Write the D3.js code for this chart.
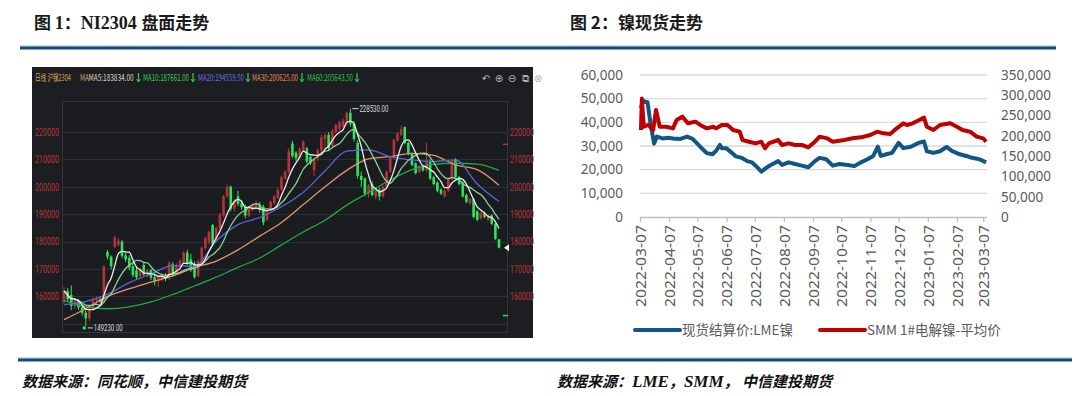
<!DOCTYPE html>
<html>
<head>
<meta charset="utf-8">
<script src="https://cdn.jsdelivr.net/npm/d3@7"></script>
<style>
body{margin:0;background:#fff}
svg{display:block}
</style>
</head>
<body>
<svg id="chart"></svg>
<script>
// ---- left chart: NI2304 daily candles
var kOpen = [158000,162000,160500,156500,158500,156000,154000,152000,155500,158500,159000,158500,176200,174500,178000,178800,180000,175000,174000,171000,
  169500,167500,171500,168000,169500,167000,165500,166500,168000,166500,171700,168500,171000,172500,176000,173500,172000,167500,172500,177700,
  180000,186000,180500,185000,189500,196500,200000,192000,196500,194000,192700,189500,191500,192000,193500,192700,188000,191500,194000,196000,
  199000,203000,205500,215800,212500,210800,213500,214000,211000,206100,210400,213400,217500,219000,215000,220000,221000,222000,223500,227000,
  223000,216000,204000,203000,197500,201000,196500,199000,196500,200000,205500,210500,217000,219000,221800,216000,212000,208500,205500,207500,
  206000,209500,203500,201500,199000,196500,198500,203000,210000,203500,201500,197000,194000,195500,191000,188500,190500,188000,189500,186500,180800];
var kHigh = [163500,163000,164000,159500,159000,157000,155000,156500,159500,160000,159500,171500,177000,175000,182200,181200,180500,176000,175000,172500,
  170500,170500,172500,170000,170000,168500,167500,168500,168500,172800,172500,172000,173500,176500,177000,175500,172800,173500,178200,181800,
  184000,186500,185500,190500,197000,200800,200500,195500,198500,195000,193500,192500,194000,195000,194500,193500,191500,195000,197000,199500,
  204000,206000,214000,216800,213000,214500,217000,214500,211500,210500,214000,219000,219500,220000,221000,223000,224000,225000,227500,228530,
  224000,217000,205500,203500,201000,202000,199500,199500,200500,206000,211000,217500,220000,222300,222000,216500,212500,209000,208000,208000,
  216000,210000,204000,202000,199500,199000,203500,210000,210500,204000,202000,197500,196000,196000,191500,191000,191000,190000,190000,187000,181000];
var kLow = [157000,158000,155000,155500,155000,153000,149230,151000,155000,157000,157500,157500,173500,170000,177500,178200,174000,172500,169500,167000,
  166000,166500,167500,167000,166000,164000,163500,165500,165500,166000,167000,168000,170500,172000,171500,169000,166500,167000,172000,177000,
  179000,178500,180000,184500,189000,196000,191000,191000,193000,191500,188500,189000,191000,191500,190500,186000,187500,191000,193500,195500,
  198500,202500,205000,210500,209500,210000,213000,208500,208000,204000,209500,212500,214000,213000,214500,219500,220500,221500,222500,222000,
  216500,203000,200000,196500,196000,196500,195500,195000,196000,199500,205000,210000,216500,218500,215500,211500,207500,204500,205000,205500,
  205500,202500,200500,198000,197000,196000,198000,202500,203000,200500,196000,194000,193500,188500,187500,188000,188500,187500,186000,180500,177500];
var kClose = [162000,159000,156500,158500,156000,154000,152000,155500,158500,159000,158000,170800,174500,171000,181500,180300,174800,173500,170500,167800,
  167000,169800,168000,169500,166800,165500,167000,168000,166500,172300,168000,171200,173000,176000,172000,169500,167000,172800,177700,181200,
  183500,179200,185000,189800,196500,200000,192000,194800,193800,192500,189500,192000,193000,194000,191500,187000,191000,194500,196500,199000,
  203500,205500,213000,211200,210500,213800,216500,209200,208600,209800,213400,218000,218800,214000,220500,222500,223500,224000,227000,223000,
  217500,204000,202500,197500,200500,197000,199000,196500,200000,205500,210500,217000,219500,221000,216000,212000,208000,205000,207500,206000,
  209500,203000,201000,198500,197500,198500,203000,209500,203500,201000,196500,194500,195500,189000,188000,190500,189000,189500,186500,181000,177800];

// longer moving averages, read at every 6th candle
var maIdx = [0,6,12,18,24,30,36,42,48,54,60,66,72,78,84,90,96,102,108,114,120];
var ma20Vals = [157000,158100,160800,165000,168200,171200,171000,180200,186200,188800,192700,198000,205800,213000,213500,211000,209800,209200,209800,201000,194600];
var ma30Vals = [151500,155500,160000,162800,165200,167500,170500,172900,177000,182000,187000,193500,200000,206000,210200,211000,212200,211500,208000,206300,200600];
var ma60Vals = [158500,156300,155500,156200,158000,160700,163800,167000,170600,174000,178800,183500,187800,193300,197900,202500,206300,208200,208600,208300,206000];

var kTicks = [160000,170000,180000,190000,200000,210000,220000];
var maLabels = ["MA5:183834.00","MA10:187661.00","MA20:194559.50","MA30:200625.00","MA60:205643.50"];

// ---- right chart: nickel spot prices
var lmeDates = ["2022-03-08","2022-03-10","2022-03-15","2022-03-18","2022-03-22","2022-03-25","2022-03-31","2022-04-06","2022-04-11","2022-04-19",
  "2022-04-26","2022-05-02","2022-05-10","2022-05-17","2022-05-23","2022-05-27","2022-05-31","2022-06-02","2022-06-07","2022-06-13",
  "2022-06-17","2022-06-23","2022-06-29","2022-07-04","2022-07-08","2022-07-14","2022-07-20","2022-07-26","2022-08-01","2022-08-05",
  "2022-08-12","2022-08-19","2022-08-26","2022-09-02","2022-09-09","2022-09-14","2022-09-21","2022-09-28","2022-10-05","2022-10-14",
  "2022-10-21","2022-10-28","2022-11-04","2022-11-10","2022-11-15","2022-11-18","2022-11-24","2022-11-30","2022-12-07","2022-12-12",
  "2022-12-20","2022-12-28","2023-01-03","2023-01-06","2023-01-13","2023-01-20","2023-01-27","2023-02-02","2023-02-10","2023-02-17",
  "2023-02-23","2023-03-03","2023-03-10"];
var lmeVals = [46000,49000,48500,40000,31000,34000,33200,33500,33200,33000,
  34000,33000,29700,27000,26500,28000,30500,29000,29000,27000,
  25600,25000,23600,23100,21700,19200,21000,22400,23600,22000,
  23100,22400,21700,21000,23600,25000,24400,21700,22400,22000,
  21500,23100,24400,25800,29700,25800,26500,27100,31300,29100,
  29700,31300,31900,27800,27100,27800,29600,27800,26500,25800,
  25000,24400,23100];

var smmDates = ["2022-03-08","2022-03-09","2022-03-11","2022-03-16","2022-03-21","2022-03-24","2022-03-28","2022-04-04","2022-04-11","2022-04-15",
  "2022-04-21","2022-04-27","2022-05-05","2022-05-10","2022-05-17","2022-05-24","2022-05-27","2022-06-02","2022-06-08","2022-06-14",
  "2022-06-21","2022-06-24","2022-07-01","2022-07-08","2022-07-14","2022-07-18","2022-07-22","2022-08-01","2022-08-05","2022-08-12",
  "2022-08-19","2022-08-26","2022-09-02","2022-09-09","2022-09-14","2022-09-22","2022-09-28","2022-10-10","2022-10-19","2022-10-28",
  "2022-11-07","2022-11-14","2022-11-21","2022-11-28","2022-12-05","2022-12-12","2022-12-16","2022-12-22","2022-12-29","2023-01-03",
  "2023-01-06","2023-01-13","2023-01-20","2023-01-31","2023-02-07","2023-02-13","2023-02-21","2023-02-28","2023-03-07","2023-03-10"];
var smmVals = [214400,292000,222600,226800,214400,263700,222600,222600,218500,239100,
  247300,230900,235000,226800,218500,222600,218500,226800,226800,214400,
  210300,189800,185600,181500,185600,169300,181500,189800,177500,181500,
  177500,177500,171700,185600,198000,193900,185600,189800,193900,196300,
  202100,210300,206200,204500,218500,230900,226800,230900,239100,245000,
  222600,214400,226800,230900,222600,214400,210300,198000,193900,185600];

var leftTicks = [0,10000,20000,30000,40000,50000,60000];
var rightTicks = [0,50000,100000,150000,200000,250000,300000,350000];
var dateTicks = ["2022-03-07","2022-04-07","2022-05-07","2022-06-07","2022-07-07","2022-08-07","2022-09-07",
  "2022-10-07","2022-11-07","2022-12-07","2023-01-07","2023-02-07","2023-03-07"];

var width = 1080, height = 396;
var svg = d3.select("#chart").attr("width", width).attr("height", height);
var cjk = "'Noto Sans CJK SC', 'Noto Sans', sans-serif";

// ---------- titles, rules, sources
var title1 = svg.append("text").attr("x", 34).attr("y", 29)
  .attr("font-family", cjk).attr("font-weight", "bold").attr("font-size", 17).attr("fill", "#1a1a1a");
title1.append("tspan").text("图 ");
title1.append("tspan").attr("font-family", "'Liberation Serif', serif").attr("font-size", 18).text("1");
title1.append("tspan").text("：");
title1.append("tspan").attr("font-family", "'Liberation Serif', serif").attr("font-size", 18).text("NI2304 ");
title1.append("tspan").text("盘面走势");

svg.append("text").attr("x", 570).attr("y", 29)
  .attr("font-family", cjk).attr("font-weight", "bold").attr("font-size", 17).attr("fill", "#1a1a1a")
  .text("图 2：镍现货走势");

function rule(x1, x2, y) {
  svg.append("line").attr("x1", x1).attr("x2", x2).attr("y1", y - 2).attr("y2", y - 2)
    .attr("stroke", "#9db8d0").attr("stroke-width", 1);
  svg.append("line").attr("x1", x1).attr("x2", x2).attr("y1", y).attr("y2", y)
    .attr("stroke", "#114d7c").attr("stroke-width", 3);
}
rule(20, 1056, 48);
rule(18, 1072, 360);

svg.append("text").attr("x", 22).attr("y", 387)
  .attr("font-family", cjk).attr("font-weight", "bold").attr("font-style", "italic")
  .attr("font-size", 15).attr("fill", "#111").text("数据来源：同花顺，中信建投期货");
var src2 = svg.append("text").attr("x", 557).attr("y", 387)
  .attr("font-family", cjk).attr("font-weight", "bold").attr("font-style", "italic")
  .attr("font-size", 15).attr("fill", "#111");
src2.append("tspan").text("数据来源：");
src2.append("tspan").attr("font-family", "'Liberation Serif', serif").attr("font-size", 17).text("LME");
src2.append("tspan").text("，");
src2.append("tspan").attr("font-family", "'Liberation Serif', serif").attr("font-size", 17).text("SMM");
src2.append("tspan").text("， 中信建投期货");

// ---------- left chart (dark screenshot style)
var k = svg.append("g");
k.append("rect").attr("x", 32).attr("y", 67).attr("width", 501).attr("height", 271).attr("fill", "#1d1e22");
k.append("rect").attr("x", 62.5).attr("y", 101.5).attr("width", 445).attr("height", 231)
  .attr("fill", "#1b1c20").attr("stroke", "#33353b").attr("stroke-width", 1);

var kx = d3.scaleLinear().domain([0, 120]).range([64, 499]);
var ky = d3.scaleLinear().domain([150000, 220000]).range([323.8, 132]);

k.selectAll(".kgrid").data(kTicks.concat([150000])).enter().append("line")
  .attr("x1", 63).attr("x2", 507).attr("y1", function(d){ return Math.round(ky(d)) + 0.5; })
  .attr("y2", function(d){ return Math.round(ky(d)) + 0.5; })
  .attr("stroke", "#2d2f35").attr("stroke-width", 1);

var yLabL = d3.axisLeft(ky).tickValues(kTicks).tickSize(0).tickPadding(0).tickFormat(d3.format("d"));
var gl = k.append("g").attr("transform", "translate(59,0)").call(yLabL);
var yLabR = d3.axisRight(ky).tickValues(kTicks).tickSize(0).tickPadding(0).tickFormat(d3.format("d"));
var gr = k.append("g").attr("transform", "translate(510,0)").call(yLabR);
[gl, gr].forEach(function(g){
  g.select(".domain").remove();
  g.selectAll("text").attr("fill", "#b8343c").attr("font-family", "'Roboto', sans-serif")
    .attr("font-size", 10).attr("textLength", 24).attr("lengthAdjust", "spacingAndGlyphs");
});

// header strip: narrow text drawn with a horizontal squeeze
function hText(x, sx, col, t) {
  k.append("text").attr("transform", "translate(" + x + ",81) scale(" + sx + ",1)")
    .attr("font-family", cjk).attr("font-size", 9).attr("fill", col).text(t);
}
hText(35, 0.62, "#d2a35c", "日线 沪镍2304");
hText(80, 0.7, "#c9a15a", "MA");
var maColors = ["#d8d2c4", "#3dc85c", "#6a6ee0", "#e0845c", "#2cc04e"];
var maX = [88.5, 143, 198, 252, 307];
maLabels.forEach(function(t, i){
  hText(maX[i], i === 0 ? 0.72 : 0.68, maColors[i], t);
  k.append("line").attr("x1", maX[i] + 50).attr("x2", maX[i] + 50).attr("y1", 73).attr("y2", 81)
    .attr("stroke", "#2fd252").attr("stroke-width", 1.2);
  k.append("path").attr("d", "M" + (maX[i] + 48) + ",79L" + (maX[i] + 50) + ",82L" + (maX[i] + 52) + ",79")
    .attr("fill", "none").attr("stroke", "#2fd252").attr("stroke-width", 1);
});
var icons = ["↶", "⊕", "⊖", "⧉", "⊗"];
icons.forEach(function(t, i){
  k.append("text").attr("x", 486 + i * 13).attr("y", 82).attr("font-family", "'DejaVu Sans', sans-serif")
    .attr("font-size", 10).attr("fill", "#b5b5b5").attr("text-anchor", "middle").text(t);
});

// candles
var candles = kClose.map(function(c, i){ return {i: i, o: kOpen[i], h: kHigh[i], l: kLow[i], c: c}; });
var cg = k.append("g");
cg.selectAll(".wick").data(candles).enter().append("line")
  .attr("x1", function(d){ return kx(d.i); }).attr("x2", function(d){ return kx(d.i); })
  .attr("y1", function(d){ return ky(d.h); }).attr("y2", function(d){ return ky(d.l); })
  .attr("stroke", function(d){ return d.c >= d.o ? "#c0343e" : "#2ee35c"; }).attr("stroke-width", 1);
cg.selectAll(".body").data(candles).enter().append("rect")
  .attr("x", function(d){ return kx(d.i) - 1.3; }).attr("width", 2.6)
  .attr("y", function(d){ return ky(Math.max(d.o, d.c)); })
  .attr("height", function(d){ return Math.max(1, Math.abs(ky(d.o) - ky(d.c))); })
  .attr("fill", function(d){ return d.c >= d.o ? "#b8323b" : "#2ee35c"; });

// moving averages
function movingAvg(arr, n) {
  return arr.map(function(v, i){ return d3.mean(arr.slice(Math.max(0, i - n + 1), i + 1)); });
}
var ma5 = movingAvg(kClose, 5), ma10 = movingAvg(kClose, 10);
var lineK = d3.line().x(function(d){ return kx(d[0]); }).y(function(d){ return ky(d[1]); }).curve(d3.curveMonotoneX);
var maSets = [
  [ma60Vals.map(function(v, j){ return [maIdx[j], v]; }), "#1fa846"],
  [ma30Vals.map(function(v, j){ return [maIdx[j], v]; }), "#e39272"],
  [ma20Vals.map(function(v, j){ return [maIdx[j], v]; }), "#5c63d2"],
  [ma10.map(function(v, i){ return [i, v]; }), "#86cf95"],
  [ma5.map(function(v, i){ return [i, v]; }), "#ececec"]
];
maSets.forEach(function(s){
  k.append("path").attr("d", lineK(s[0])).attr("fill", "none").attr("stroke", s[1]).attr("stroke-width", 1.3);
});

// high / low notes and right-edge markers
var hiI = d3.maxIndex(kHigh), loI = d3.minIndex(kLow);
k.append("line").attr("x1", kx(hiI) + 2).attr("x2", kx(hiI) + 8).attr("y1", ky(kHigh[hiI])).attr("y2", ky(kHigh[hiI]))
  .attr("stroke", "#d8d8d8").attr("stroke-width", 1);
k.append("text").attr("x", kx(hiI) + 9).attr("y", ky(kHigh[hiI]) + 3).attr("font-family", "'Roboto', sans-serif")
  .attr("font-size", 9).attr("fill", "#d8d8d8").attr("textLength", 29).attr("lengthAdjust", "spacingAndGlyphs")
  .text(d3.format(".2f")(kHigh[hiI]));
k.append("rect").attr("x", kx(loI) - 3).attr("y", ky(kLow[loI]) + 0.5).attr("width", 3).attr("height", 3).attr("fill", "#2ee35c");
k.append("line").attr("x1", kx(loI) + 2).attr("x2", kx(loI) + 7).attr("y1", ky(kLow[loI]) + 2).attr("y2", ky(kLow[loI]) + 2)
  .attr("stroke", "#d8d8d8").attr("stroke-width", 1);
k.append("text").attr("x", kx(loI) + 8).attr("y", ky(kLow[loI]) + 5).attr("font-family", "'Roboto', sans-serif")
  .attr("font-size", 9).attr("fill", "#d8d8d8").attr("textLength", 29).attr("lengthAdjust", "spacingAndGlyphs")
  .text(d3.format(".2f")(kLow[loI]));
var last = kClose[kClose.length - 1];
k.append("path").attr("d", "M504," + ky(last) + "L509," + (ky(last) - 3.5) + "L509," + (ky(last) + 3.5) + "Z").attr("fill", "#f0f0f0");
k.append("line").attr("x1", 503).attr("x2", 508).attr("y1", ky(215500)).attr("y2", ky(215500)).attr("stroke", "#c0343e").attr("stroke-width", 1.5);
k.append("line").attr("x1", 503).attr("x2", 508).attr("y1", ky(153000)).attr("y2", ky(153000)).attr("stroke", "#2ee35c").attr("stroke-width", 1.5);

// ---------- right chart
var parse = d3.timeParse("%Y-%m-%d");
var xT = d3.scaleTime().domain([parse("2022-03-07"), parse("2023-03-11")]).range([640, 987]);
var yL = d3.scaleLinear().domain([0, 60000]).range([217, 75]);
var yR = d3.scaleLinear().domain([0, 350000]).range([217, 75]);
var r = svg.append("g");

r.selectAll(".grid").data(leftTicks.slice(1)).enter().append("line")
  .attr("x1", 640).attr("x2", 987).attr("y1", function(d){ return yL(d); }).attr("y2", function(d){ return yL(d); })
  .attr("stroke", "#d9d9d9").attr("stroke-width", 1.3);

var xAxis = d3.axisBottom(xT).tickValues(dateTicks.map(parse)).tickSize(5).tickFormat(d3.timeFormat("%Y-%m-%d"));
var gx = r.append("g").attr("transform", "translate(0,217)").call(xAxis);
gx.select(".domain").attr("stroke", "#bfbfbf").attr("stroke-width", 1.3).attr("d", "M640,0.5H987");
gx.selectAll(".tick line").attr("stroke", "#bfbfbf").attr("stroke-width", 1.3);
gx.selectAll("text").attr("transform", "rotate(-90)").attr("text-anchor", "end")
  .attr("x", -8).attr("y", 0).attr("dy", "0.36em")
  .attr("font-family", "'Noto Sans', sans-serif").attr("font-size", 15).attr("fill", "#595959")
  .attr("textLength", 82).attr("lengthAdjust", "spacingAndGlyphs");

var gyl = r.append("g").attr("transform", "translate(623,0)")
  .call(d3.axisLeft(yL).tickValues(leftTicks).tickSize(0).tickPadding(0).tickFormat(d3.format(",")));
var gyr = r.append("g").attr("transform", "translate(1001,0)")
  .call(d3.axisRight(yR).tickValues(rightTicks).tickSize(0).tickPadding(0).tickFormat(d3.format(",")));
[gyl, gyr].forEach(function(g){
  g.select(".domain").remove();
  g.selectAll("text").attr("font-family", "'Noto Sans', sans-serif").attr("font-size", 13.5).attr("fill", "#595959");
});

var lme = lmeDates.map(function(d, i){ return [parse(d), lmeVals[i]]; });
var smm = smmDates.map(function(d, i){ return [parse(d), smmVals[i]]; });
r.append("path").attr("d", d3.line().x(function(d){ return xT(d[0]); }).y(function(d){ return yL(d[1]); })(lme))
  .attr("fill", "none").attr("stroke", "#115685").attr("stroke-width", 4).attr("stroke-linejoin", "round");
r.append("path").attr("d", d3.line().x(function(d){ return xT(d[0]); }).y(function(d){ return yR(d[1]); })(smm))
  .attr("fill", "none").attr("stroke", "#c00000").attr("stroke-width", 4).attr("stroke-linejoin", "round");

// legend
var legend = [["现货结算价:LME镍", "#115685", 635], ["SMM 1#电解镍-平均价", "#c00000", 820]];
legend.forEach(function(l){
  r.append("line").attr("x1", l[2]).attr("x2", l[2] + 45).attr("y1", 330).attr("y2", 330)
    .attr("stroke", l[1]).attr("stroke-width", 4).attr("stroke-linecap", "round");
  r.append("text").attr("x", l[2] + 47).attr("y", 335).attr("font-family", cjk)
    .attr("font-size", 13.5).attr("fill", "#595959").text(l[0]);
});
</script>
</body>
</html>
